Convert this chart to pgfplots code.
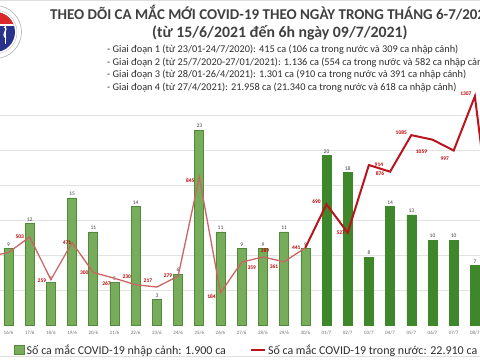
\documentclass[border=0pt]{standalone}
\usepackage{fontspec}
\setmainfont{Carlito}
\usepackage{pgfplots}
\pgfplotsset{compat=1.18}
\usepackage{pgfplotstable}

\definecolor{junefill}{RGB}{118,172,90}
\definecolor{juneedge}{RGB}{82,138,60}
\definecolor{julyfill}{RGB}{62,135,42}
\definecolor{linejune}{RGB}{205,100,100}
\definecolor{linejuly}{RGB}{185,20,30}
\definecolor{labred}{RGB}{192,0,0}
\definecolor{titlegray}{RGB}{64,64,64}
\definecolor{textgray}{RGB}{45,45,45}
\definecolor{gridgray}{RGB}{226,226,226}
\definecolor{ticklab}{RGB}{110,110,110}
\definecolor{barlab}{RGB}{60,60,60}
\definecolor{logoblue}{RGB}{40,50,140}
\definecolor{logored}{RGB}{220,40,40}

\pgfplotsset{
  boxlegend/.style={legend image code/.code={\draw[##1] (0pt,-4.5pt) rectangle (10pt,4.5pt);}},
  linelegend/.style={legend image code/.code={\draw[##1] (0pt,0pt) -- (14pt,0pt);}},
}

\pgfplotstableread{
x y
0 9
1 12
2 5
3 15
4 11
5 5
6 14
7 3
8 6
9 23
10 11
11 9
12 9
13 11
14 9
}\barJune

\pgfplotstableread{
x y
15 20
16 18
17 8
18 14
19 13
20 10
21 10
22 7
}\barJuly

\pgfplotstableread{
x y dx dy lab
-1 390 0 0 390
0 414 -14 3 414
1 503 -10 0 503
2 259 -9 -1 259
3 471 -5 0 471
4 300 -9 0 300
5 267 -8 -5 267
6 230 -9 8 230
7 217 -9 6 217
8 279 -10 0 279
9 845 -9 -3 845
10 184 -9 -4 184
11 359 10 -6 359
12 389 2 6 389
13 361 -10 -5 361
14 441 -9 0 441
15 690 -10 3 690
16 527 -7 0 527
17 914 10 0 914
18 876 -10 -2 876
19 1085 -10 3 1085
20 1059 -11 -12 1059
21 997 -9 -8 997
22 1307 -9 3 1307
23 330 0 0 330
}\lineData

\begin{document}
\begin{tikzpicture}
\pgfplotsset{
  base/.style={at={(0pt,35pt)}, anchor=south west, width=480pt, height=325pt,
    scale only axis, xmin=-0.4009, xmax=22.2406, enlargelimits=false},
}
% grid + x tick labels
\begin{axis}[base, ymin=0, ymax=1857.14,
  axis line style={draw=none},
  ytick={200,400,600,800,1000,1200}, yticklabels={},
  ymajorgrids, grid style={draw=gridgray, line width=0.9pt},
  xtick={0,...,22},
  xticklabels={16/6,17/6,18/6,19/6,20/6,21/6,22/6,23/6,24/6,25/6,26/6,27/6,28/6,29/6,30/6,01/7,02/7,03/7,04/7,05/7,06/7,07/7,08/7},
  major tick length=0pt,
  x tick label style={font=\fontsize{5}{6}\selectfont, text=ticklab, inner sep=1pt, yshift=-4.5pt}]
\addplot[draw=none] coordinates {(0,0)};
\end{axis}
% bars
\begin{axis}[base, hide axis, ymin=0, ymax=38.37,
  legend style={at={(0.029,-0.077)}, anchor=west, draw=none, fill=none,
    font=\fontsize{12}{14}\selectfont, text=textgray, inner sep=0pt,
    /tikz/every even column/.append style={column sep=22pt}},
  legend columns=2, legend cell align=left]
\addplot[ybar, bar width=9pt, bar shift=0pt, fill=junefill, draw=juneedge, line width=0.6pt,
  point meta=explicit symbolic, nodes near coords,
  nodes near coords style={font=\fontsize{5.5}{6}\selectfont, text=barlab, inner sep=2pt},
  boxlegend]
  table[x=x, y=y, meta=y] {\barJune};
\addlegendentry{Số ca mắc COVID-19 nhập cảnh: 1.900 ca}
\addplot[ybar, bar width=9pt, bar shift=0pt, fill=julyfill, draw=julyfill, line width=0.6pt,
  point meta=explicit symbolic, nodes near coords, forget plot,
  nodes near coords style={font=\fontsize{5.5}{6}\selectfont, text=barlab, inner sep=2pt}]
  table[x=x, y=y, meta=y] {\barJuly};
\addlegendimage{linejuly, line width=2pt, linelegend}
\addlegendentry{Số ca mắc COVID-19 trong nước: 22.910 ca}
\end{axis}
% line
\begin{axis}[base, hide axis, ymin=0, ymax=1857.14]
\addplot[linejune, line width=1.3pt, restrict x to domain=-1:14] table[x=x, y=y] {\lineData};
\addplot[linejuly, line width=2pt, restrict x to domain=14:23] table[x=x, y=y] {\lineData};
\addplot[draw=none, restrict x to domain=0:22, point meta=explicit symbolic,
  visualization depends on={\thisrow{dx} \as \dx},
  visualization depends on={\thisrow{dy} \as \dy},
  nodes near coords,
  nodes near coords style={anchor=center, xshift=\dx pt, yshift=\dy pt, inner sep=0pt,
    font=\bfseries\fontsize{5.5}{6}\selectfont, text=labred}]
  table[x=x, y=y, meta=lab] {\lineData};
\end{axis}

% logo
\begin{scope}
\clip (0pt,0pt) rectangle (480pt,360pt);
\fill[white] (-5pt,328pt) circle (27pt);
\draw[gray!60, line width=0.6pt] (-5pt,328pt) circle (26.5pt);
\draw[gray!50, line width=0.4pt] (-5pt,328pt) circle (22pt);
\begin{scope}
\clip (-5pt,328pt) circle (20pt);
\fill[logoblue] (-30pt,300pt) rectangle (20pt,360pt);
\fill[logored] (-30pt,336pt) rectangle (20pt,360pt);
\fill[white] (-30pt,334.5pt) rectangle (20pt,336pt);
\end{scope}
\draw[white, line width=1.2pt] (4pt,333pt) .. controls (10pt,331pt) and (0pt,326pt) .. (6pt,322pt);
\draw[white, line width=0.8pt] (5pt,336pt) -- (5pt,316pt);
\end{scope}

% titles
\node[anchor=base west, inner sep=0pt, font=\bfseries\fontsize{15}{18}\selectfont, text=titlegray]
  at (50pt,340.5pt) {THEO DÕI CA MẮC MỚI COVID-19 THEO NGÀY TRONG THÁNG 6-7/2021};
\node[anchor=base west, inner sep=0pt, font=\bfseries\fontsize{15.8}{18}\selectfont, text=titlegray]
  at (152pt,323pt) {(từ 15/6/2021 đến 6h ngày 09/7/2021)};
\begin{scope}[every node/.style={anchor=base west, inner sep=0pt, font=\fontsize{10.3}{12}\selectfont, text=textgray}]
\node at (107pt,307.5pt) {- Giai đoạn 1 (từ 23/01-24/7/2020): 415 ca (106 ca trong nước và 309 ca nhập cảnh)};
\node at (107pt,295pt) {- Giai đoạn 2 (từ 25/7/2020-27/01/2021): 1.136 ca (554 ca trong nước và 582 ca nhập cảnh)};
\node at (107pt,282.5pt) {- Giai đoạn 3 (từ 28/01-26/4/2021): 1.301 ca (910 ca trong nước và 391 ca nhập cảnh)};
\node at (107pt,270pt) {- Giai đoạn 4 (từ 27/4/2021): 21.958 ca (21.340 ca trong nước và 618 ca nhập cảnh)};
\end{scope}
\draw[gray!25, line width=0.8pt] (0pt,359.3pt) -- (480pt,359.3pt);
\draw[gray!25, line width=0.8pt] (0pt,3.3pt) -- (480pt,3.3pt);

\pgfresetboundingbox
\path[use as bounding box] (0pt,0pt) rectangle (480pt,360pt);
\end{tikzpicture}
\end{document}
